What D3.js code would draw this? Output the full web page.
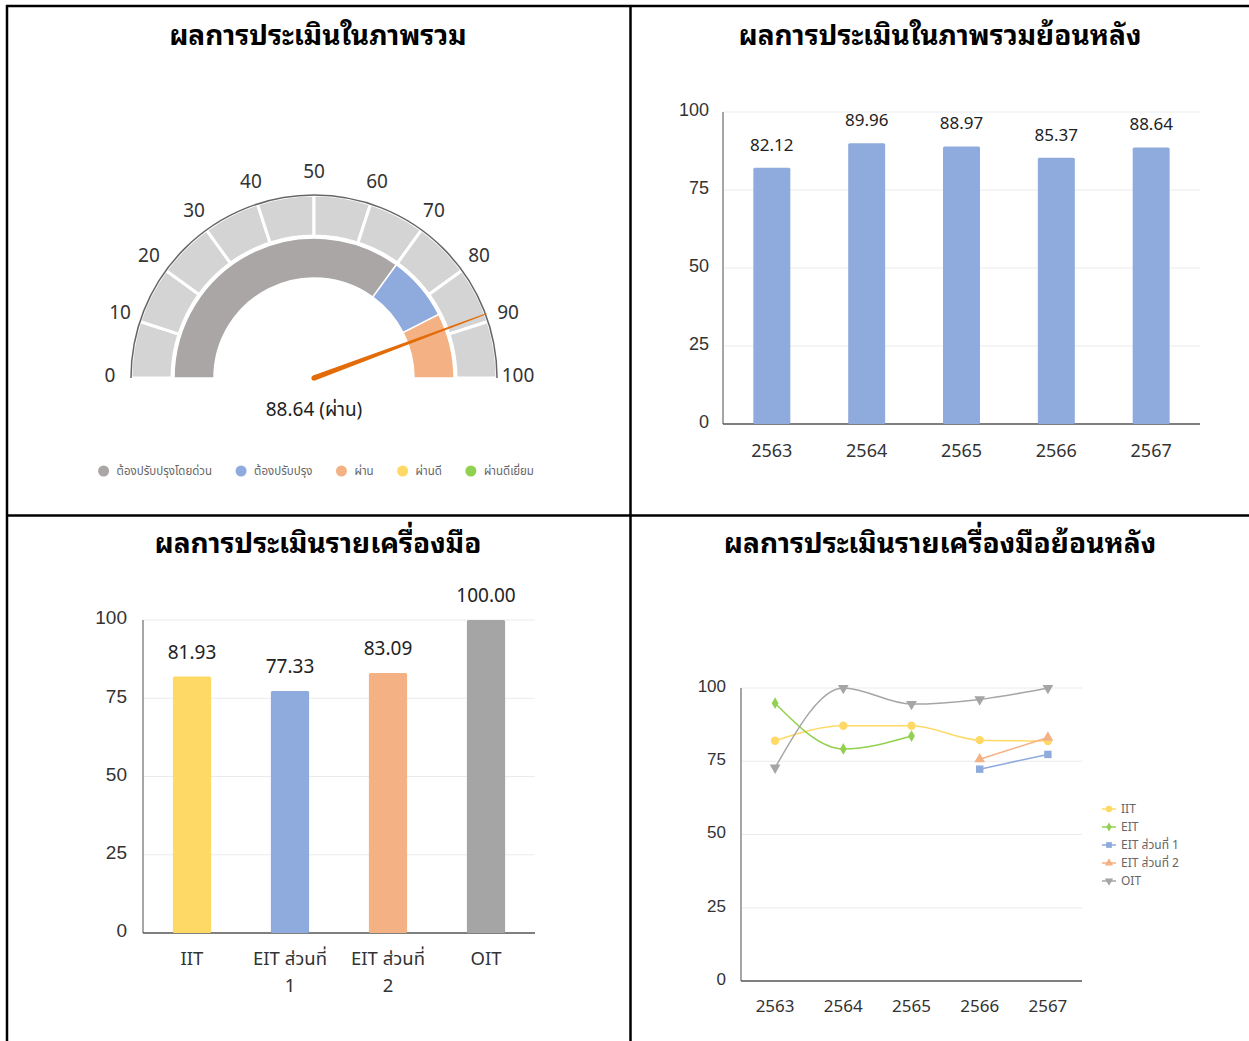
<!DOCTYPE html>
<html><head><meta charset="utf-8">
<script src="https://cdn.jsdelivr.net/npm/d3@7"></script>
<style>
body{margin:0;background:#fff;}
svg{display:block;font-family:"Noto Sans Thai","Noto Sans",sans-serif;}
.title{font-family:"Noto Sans Thai Looped","Loma","Tahoma","Garuda","Noto Sans Thai","Noto Sans",sans-serif;}
</style></head>
<body><svg id="c" width="1249" height="1041"></svg>
<script>
// ---------- DATA ----------
const titles = ["ผลการประเมินในภาพรวม","ผลการประเมินในภาพรวมย้อนหลัง","ผลการประเมินรายเครื่องมือ","ผลการประเมินรายเครื่องมือย้อนหลัง"];
const gaugeValue = 88.64;
const gaugeValueLabel = "88.64 (ผ่าน)";
const gaugeTicks = [0,10,20,30,40,50,60,70,80,90,100];
const gaugeBands = [{from:0,to:70,color:"#aaa6a6"},{from:70,to:85,color:"#8faadc"},{from:85,to:100,color:"#f4b183"}];
const gaugeLegend = ["ต้องปรับปรุงโดยด่วน","ต้องปรับปรุง","ผ่าน","ผ่านดี","ผ่านดีเยี่ยม"];
const gaugeLegendColors = ["#aaa6a6","#8faadc","#f4b183","#ffd966","#92d050"];

const years = ["2563","2564","2565","2566","2567"];
const overallValues = [82.12,89.96,88.97,85.37,88.64];

const tools = [["IIT"],["EIT ส่วนที่","1"],["EIT ส่วนที่","2"],["OIT"]];
const toolValues = [81.93,77.33,83.09,100.00];
const toolColors = ["#ffd966","#8faadc","#f4b183","#a5a5a5"];

const yTicks = [0,25,50,75,100];

const seriesNames = ["IIT","EIT","EIT ส่วนที่ 1","EIT ส่วนที่ 2","OIT"];
const iitHist  = [82.0,87.1,87.1,82.2,81.93];
const eitHist  = [94.8,79.2,83.6,null,null];
const eit1Hist = [null,null,null,72.3,77.33];
const eit2Hist = [null,null,null,75.7,83.09];
const oitHist  = [72.8,100,94.5,96.1,100];
const seriesColors = ["#ffd966","#92d050","#8faadc","#f4b183","#a5a5a5"];

// ---------- LAYOUT ----------
const svg = d3.select("#c");
const B = svg.append("g").attr("stroke","#000").attr("stroke-width",2.5);
B.append("line").attr("x1",6).attr("x2",1249).attr("y1",6).attr("y2",6);
B.append("line").attr("x1",7).attr("x2",7).attr("y1",5).attr("y2",1041);
B.append("line").attr("x1",630.5).attr("x2",630.5).attr("y1",5).attr("y2",1041);
B.append("line").attr("x1",6).attr("x2",1249).attr("y1",515.5).attr("y2",515.5);

const titlePos = [[318,45],[940,45],[318,553],[940,553]];
titles.forEach((t,i)=>{
  svg.append("text").attr("class","title").attr("x",titlePos[i][0]).attr("y",titlePos[i][1])
    .attr("text-anchor","middle").attr("font-size",28).attr("font-weight","bold").attr("fill","#000").text(t);
});

// ---------- GAUGE ----------
const cx=314, cy=378;
const ang = d3.scaleLinear().domain([0,100]).range([-Math.PI/2, Math.PI/2]);
const G = svg.append("g").attr("transform",`translate(${cx},${cy})`);
const outerArc = d3.arc().innerRadius(142).outerRadius(183);
for(let i=0;i<10;i++){
  G.append("path").attr("d",outerArc({startAngle:ang(i*10),endAngle:ang(i*10+10)}))
    .attr("fill","#d4d4d4").attr("stroke","#fff").attr("stroke-width",3);
}
G.append("path").attr("d",d3.arc().innerRadius(183).outerRadius(183)({startAngle:ang(0),endAngle:ang(100)}))
  .attr("fill","none").attr("stroke","#666").attr("stroke-width",1.5);
const innerArc = d3.arc().innerRadius(100).outerRadius(140);
gaugeBands.forEach(b=>{
  G.append("path").attr("d",innerArc({startAngle:ang(b.from),endAngle:ang(b.to)}))
    .attr("fill",b.color).attr("stroke","#fff").attr("stroke-width",1.5);
});
gaugeTicks.forEach(t=>{
  const a=ang(t), r=204;
  G.append("text").attr("x",r*Math.sin(a)).attr("y",-r*Math.cos(a)-3).attr("dy","0.35em")
    .attr("text-anchor","middle").attr("font-size",19).attr("fill","#333").text(t);
});
{
  const a=ang(gaugeValue), L=184;
  const dx=Math.sin(a), dy=-Math.cos(a), px=-dy, py=dx;
  const pts=[[px*2.6,py*2.6],[dx*L+px*0.5,dy*L+py*0.5],[dx*L-px*0.5,dy*L-py*0.5],[-px*2.6,-py*2.6]];
  G.append("path").attr("d","M"+pts.map(p=>p.join(",")).join("L")+"Z").attr("fill","#e36c09");
  G.append("circle").attr("r",2.6).attr("fill","#e36c09");
}
svg.append("text").attr("x",cx).attr("y",416).attr("text-anchor","middle").attr("font-size",19).attr("fill","#222").text(gaugeValueLabel);
{
  const lg = svg.append("g");
  let x=0;
  gaugeLegend.forEach((t,i)=>{
    const g=lg.append("g").attr("transform",`translate(${x},0)`);
    g.append("circle").attr("cx",0).attr("cy",0).attr("r",5.5).attr("fill",gaugeLegendColors[i]);
    const tx=g.append("text").attr("x",13).attr("y",0).attr("dy","0.35em").attr("font-size",11.5).attr("fill","#666").text(t);
    x += 13 + tx.node().getComputedTextLength() + 29;
  });
  const w = x-29+5.5;
  lg.attr("transform",`translate(${316 - w/2 + 5.5},471)`);
}

// ---------- helper axes ----------
function yAxis(g, y, x0, x1, labelOffset, fs){
  yTicks.forEach(t=>{
    if(t>0) g.append("line").attr("x1",x0).attr("x2",x1).attr("y1",y(t)).attr("y2",y(t)).attr("stroke","#ebebeb").attr("stroke-width",1.2);
  });
  const ax = g.append("g").attr("transform",`translate(${x0},0)`).call(d3.axisLeft(y).tickValues(yTicks).tickSize(0).tickPadding(labelOffset));
  ax.select(".domain").remove();
  ax.selectAll("text").attr("font-size",fs).attr("fill","#333").attr("font-family","inherit").attr("dy","0.2em");
  g.append("line").attr("x1",x0).attr("x2",x0).attr("y1",y(100)).attr("y2",y(0)).attr("stroke","#888").attr("stroke-width",1.5);
  g.append("line").attr("x1",x0).attr("x2",x1).attr("y1",y(0)).attr("y2",y(0)).attr("stroke","#555").attr("stroke-width",1.5);
}

// ---------- OVERALL HISTORY BARS ----------
{
  const g=svg.append("g");
  const y=d3.scaleLinear().domain([0,100]).range([424,112]);
  const x=d3.scaleBand().domain(years).range([723,1200]).paddingInner(0.61).paddingOuter(0.32);
  yAxis(g,y,723,1200,14,18);
  g.selectAll("rect.b").data(overallValues).join("rect")
    .attr("x",(d,i)=>x(years[i])).attr("width",x.bandwidth())
    .attr("y",d=>y(d)).attr("height",d=>y(0)-y(d)).attr("fill","#8faadc").attr("rx",1.5);
  g.selectAll("text.v").data(overallValues).join("text")
    .attr("x",(d,i)=>x(years[i])+x.bandwidth()/2).attr("y",d=>y(d)-17)
    .attr("text-anchor","middle").attr("font-size",17).attr("fill","#222").text(d=>d.toFixed(2));
  g.selectAll("text.x").data(years).join("text")
    .attr("x",d=>x(d)+x.bandwidth()/2).attr("y",457).attr("text-anchor","middle").attr("font-size",18).attr("fill","#333").text(d=>d);
}

// ---------- TOOL BARS ----------
{
  const g=svg.append("g");
  const y=d3.scaleLinear().domain([0,100]).range([933,620]);
  const keys=tools.map((t,i)=>"k"+i);
  const x=d3.scaleBand().domain(keys).range([143,535]).paddingInner(0.61).paddingOuter(0.305);
  yAxis(g,y,143,535,16,19);
  g.selectAll("rect.b").data(toolValues).join("rect")
    .attr("x",(d,i)=>x(keys[i])).attr("width",x.bandwidth())
    .attr("y",d=>y(d)).attr("height",d=>y(0)-y(d)).attr("fill",(d,i)=>toolColors[i]).attr("rx",1.5);
  g.selectAll("text.v").data(toolValues).join("text")
    .attr("x",(d,i)=>x(keys[i])+x.bandwidth()/2).attr("y",d=>y(d)-18)
    .attr("text-anchor","middle").attr("font-size",19).attr("fill","#222").text(d=>d.toFixed(2));
  tools.forEach((lines,i)=>{
    lines.forEach((l,j)=>{
      g.append("text").attr("x",x(keys[i])+x.bandwidth()/2).attr("y",965+j*27)
        .attr("text-anchor","middle").attr("font-size",18.5).attr("fill","#333").text(l);
    });
  });
}

// ---------- TOOL HISTORY LINES ----------
{
  const g=svg.append("g");
  const y=d3.scaleLinear().domain([0,100]).range([981,688]);
  const x=d3.scalePoint().domain(years).range([741,1082]).padding(0.5);
  yAxis(g,y,741,1082,15,17);
  g.selectAll("text.x").data(years).join("text")
    .attr("x",d=>x(d)).attr("y",1012).attr("text-anchor","middle").attr("font-size",17).attr("fill","#333").text(d=>d);
  const all=[iitHist,eitHist,eit1Hist,eit2Hist,oitHist];
  const symbols=[d3.symbolCircle,d3.symbolDiamond,d3.symbolSquare,d3.symbolTriangle,d3.symbolTriangle];
  const sizes=[55,40,55,50,50];
  const rot=[0,0,0,0,180];
  const line=d3.line().defined(d=>d.v!==null).x(d=>x(d.year)).y(d=>y(d.v)).curve(d3.curveMonotoneX);
  all.forEach((s,k)=>{
    const pts=s.map((v,i)=>({year:years[i],v}));
    g.append("path").attr("d",line(pts)).attr("fill","none").attr("stroke",seriesColors[k]).attr("stroke-width",1.5);
  });
  all.forEach((s,k)=>{
    s.forEach((v,i)=>{
      if(v===null) return;
      g.append("path").attr("d",d3.symbol(symbols[k],sizes[k])())
        .attr("transform",`translate(${x(years[i])},${y(v)}) rotate(${rot[k]})`).attr("fill",seriesColors[k]);
    });
  });
  seriesNames.forEach((n,k)=>{
    const ly=809+k*18;
    g.append("line").attr("x1",1102).attr("x2",1116).attr("y1",ly).attr("y2",ly).attr("stroke",seriesColors[k]).attr("stroke-width",1.5);
    g.append("path").attr("d",d3.symbol(symbols[k],sizes[k]*0.6)()).attr("transform",`translate(1109,${ly}) rotate(${rot[k]})`).attr("fill",seriesColors[k]);
    g.append("text").attr("x",1121).attr("y",ly).attr("dy","0.35em").attr("font-size",12).attr("fill","#666").text(n);
  });
}
</script></body></html>
